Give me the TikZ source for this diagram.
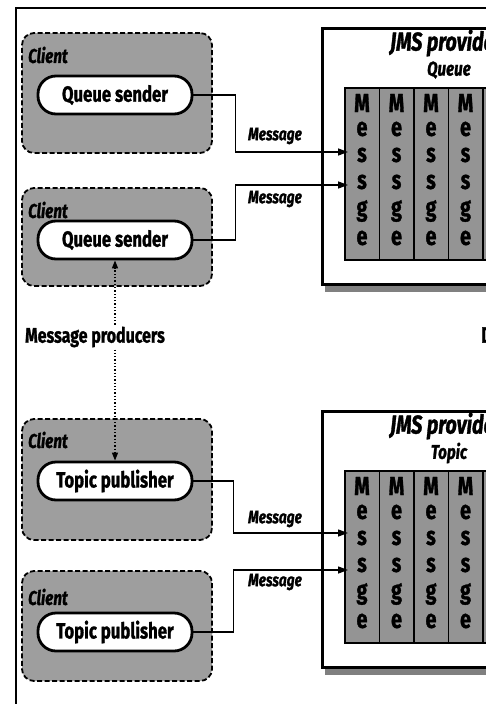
\documentclass[tikz,border=0pt]{standalone}
\usepackage{fontspec}
\setmainfont{Fira Sans}[FakeStretch=0.76,
  BoldFont={Fira Sans Bold}, BoldItalicFont={Fira Sans Bold Italic},
  BoldFeatures={FakeBold=1.2}, BoldItalicFeatures={FakeBold=1.2}]
\usetikzlibrary{arrows.meta}

\begin{document}
\begin{tikzpicture}[x=1pt,y=-1pt,
  clientbox/.style={draw, line width=1.8pt, dash pattern=on 5pt off 2.5pt,
    rounded corners=12pt, fill=black!38, minimum width=190pt, inner sep=0pt},
  pill/.style={draw, line width=2.8pt, fill=white, rounded corners=18pt,
    minimum width=154pt, minimum height=38pt, inner sep=0pt,
    font=\bfseries\fontsize{22}{24}\selectfont},
  clientlbl/.style={anchor=west, inner sep=0pt,
    font=\bfseries\itshape\fontsize{20}{22}\selectfont},
  msglbl/.style={inner sep=0pt, font=\bfseries\itshape\fontsize{18}{20}\selectfont},
  provtitle/.style={inner sep=0pt, font=\bfseries\itshape\fontsize{26}{28}\selectfont},
  kindlbl/.style={inner sep=0pt, font=\bfseries\itshape\fontsize{20}{22}\selectfont},
  letter/.style={inner sep=0pt, font=\bfseries\fontsize{26}{28}\selectfont},
  link/.style={line width=1.3pt, -{Triangle[length=10pt,width=7pt]}},
  prod/.style={line width=1.3pt, dotted, -{Triangle[length=8pt,width=6pt]}},
  frame/.style={line width=2pt},
  provbox/.style={line width=3pt},
]
\useasboundingbox (0,0) rectangle (486,704);
\clip (0,0) rectangle (486,704);

% outer frame
\draw[frame] (16,704) -- (16,8) -- (486,8);

% message providers (queue and topic)
\foreach \oy/\nm/\kind in {0/q/Queue, 383/t/Topic} {
  \fill[black!50] (325,{285.5+\oy}) rectangle (486,{292+\oy});
  \draw[provbox] (490,{28+\oy}) -- (322,{28+\oy}) -- (322,{284+\oy}) -- (490,{284+\oy});
  \node[provtitle] (\nm title) at (446,{43+\oy}) {JMS provider};
  \node[kindlbl] (\nm kind) at (449,{70+\oy}) {\kind};
  \fill[black!42] (345,{88+\oy}) rectangle (520,{260+\oy});
  \draw[line width=2pt] (520,{88+\oy}) -- (345,{88+\oy}) -- (345,{260+\oy}) -- (520,{260+\oy});
  \foreach \i in {1,...,4}
    \draw[line width=1.8pt] ({345+34.5*\i},{88+\oy}) -- ({345+34.5*\i},{260+\oy});
  \foreach \i in {0,...,4}
    \foreach \ch/\ly [count=\r] in {M/103, e/129, s/155, s/182, g/211, e/238}
      \node[letter] (\nm col\i-\r) at ({362+34.5*\i},{\ly+\oy}) {\ch};
}

% clients
\node[clientbox, minimum height=120pt] (c1) at (117,93) {};
\node[clientbox, minimum height=98pt]  (c2) at (117,237) {};
\node[clientbox, minimum height=121pt] (c3) at (117,479.5) {};
\node[clientbox, minimum height=110pt] (c4) at (117,626) {};

\node[clientlbl] (c1l) at (28,55)  {Client};
\node[clientlbl] (c2l) at (28,210) {Client};
\node[clientlbl] (c3l) at (28,440) {Client};
\node[clientlbl] (c4l) at (28,597) {Client};

\node[pill] (qs1) at (115,95)  {Queue sender};
\node[pill] (qs2) at (115,240) {Queue sender};
\node[pill] (tp1) at (115,481) {Topic publisher};
\node[pill] (tp2) at (115,632) {Topic publisher};

% entry points into the destinations
\coordinate (q1in) at (348,152);
\coordinate (q2in) at (348,185);
\coordinate (t1in) at (348,533);
\coordinate (t2in) at (348,570);

\draw[link] (qs1.east) -- ++(42,0) |- (q1in);
\draw[link] (qs2.east) -- ++(42,0) |- (q2in);
\draw[link] (tp1.east) -- ++(40,0) |- (t1in);
\draw[link] (tp2.east) -- ++(40,0) |- (t2in);

\node[msglbl] (m1) at (275,136) {Message};
\node[msglbl] (m2) at (275,199) {Message};
\node[msglbl] (m3) at (275,519) {Message};
\node[msglbl] (m4) at (275,582) {Message};

% producers
\node[inner sep=2pt, font=\bfseries\fontsize{21}{23}\selectfont] (mp) at (95,337) {Message producers};
\draw[prod] (mp.north -| qs2.south) -- (qs2.south);
\draw[prod] (mp.south -| tp1.north) -- (tp1.north);

\node[anchor=west, inner sep=0pt, font=\bfseries\fontsize{22}{24}\selectfont] (dst) at (481,335) {D};
\end{tikzpicture}
\end{document}
